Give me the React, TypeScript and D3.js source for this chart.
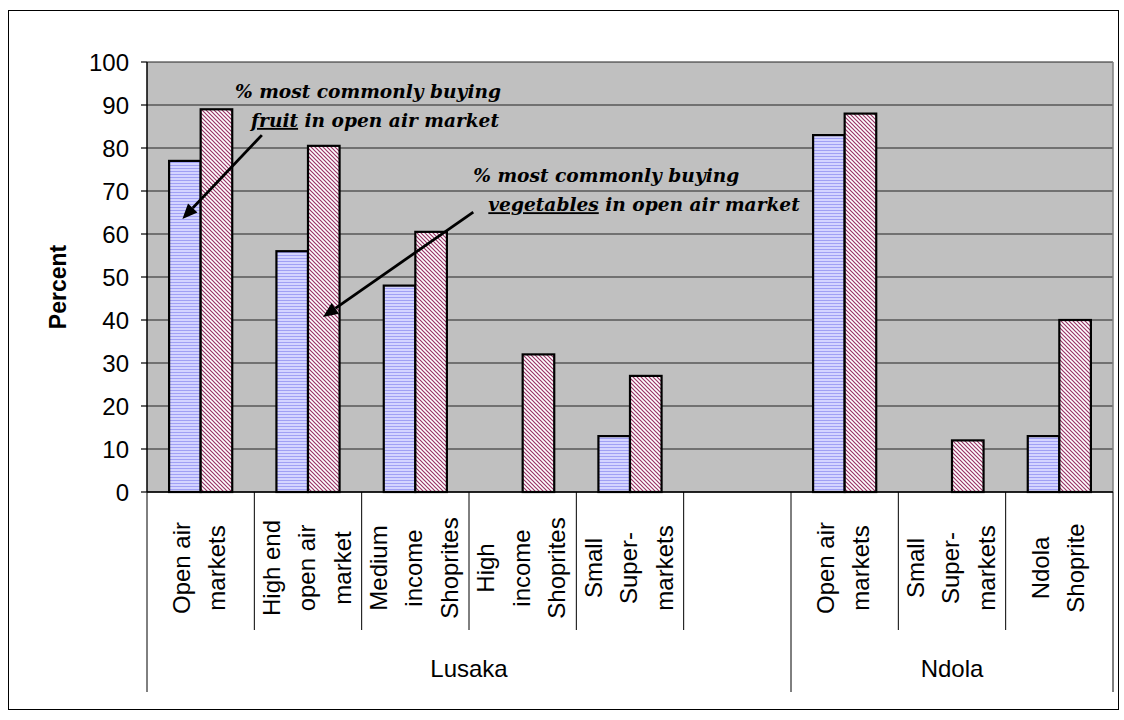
import React from "react";
import * as d3 from "d3";

const categoryLines: string[][] = [
  ["Open air", "markets"],
  ["High end", "open air", "market"],
  ["Medium", "income", "Shoprites"],
  ["High", "income", "Shoprites"],
  ["Small", "Super-", "markets"],
  [],
  ["Open air", "markets"],
  ["Small", "Super-", "markets"],
  ["Ndola", "Shoprite"],
];
const groupNames = ["Lusaka", "Ndola"];
const groupSpans = [
  [0, 6],
  [6, 9],
];
const fruitValues: (number | null)[] = [77, 56, 48, null, 13, null, 83, null, 13];
const vegValues: (number | null)[] = [89, 80.5, 60.5, 32, 27, null, 88, 12, 40];
const seriesKeys = ["fruit", "veg"];
const yTicks = [0, 10, 20, 30, 40, 50, 60, 70, 80, 90, 100];

// annotations in data coordinates (slot position, value)
const annotations = [
  {
    lines: [
      [{ t: "% most commonly buying", u: false }],
      [
        { t: "fruit", u: true },
        { t: " in open air market", u: false },
      ],
    ],
    textPos: [
      [0.82, 91.6],
      [0.97, 84.9],
    ],
    arrowFrom: [1.07, 83],
    arrowTo: [0.33, 63.5],
  },
  {
    lines: [
      [{ t: "% most commonly buying", u: false }],
      [
        { t: "vegetables", u: true },
        { t: " in open air market", u: false },
      ],
    ],
    textPos: [
      [3.04, 72.1],
      [3.18, 65.3],
    ],
    arrowFrom: [3.04, 65.1],
    arrowTo: [1.64, 40.7],
  },
];

const W = 1124;
const H = 720;
const left = 147;
const right = 1113;
const top = 62;
const bottom = 492;
const FONT = "'Liberation Sans', Arial, sans-serif";

export default function App() {
  const idx = categoryLines.map((_, i) => i);
  const x0 = d3.scaleBand<number>().domain(idx).range([left, right]).padding(0);
  const x1 = d3
    .scaleBand<string>()
    .domain(seriesKeys)
    .range([0, x0.bandwidth()])
    .paddingInner(0)
    .paddingOuter(0.7);
  const y = d3.scaleLinear().domain([0, 100]).range([bottom, top]);
  const slotX = d3.scaleLinear().domain([0, categoryLines.length]).range([left, right]);

  const bars: { key: string; i: number; v: number }[] = [];
  idx.forEach((i) => {
    if (fruitValues[i] != null) bars.push({ key: "fruit", i, v: fruitValues[i] as number });
    if (vegValues[i] != null) bars.push({ key: "veg", i, v: vegValues[i] as number });
  });

  const groupBoundaries = new Set<number>();
  groupSpans.forEach(([a, b]) => {
    groupBoundaries.add(a);
    groupBoundaries.add(b);
  });

  const arrowLine = (a: number[], b: number[]) => {
    const xA = slotX(a[0]),
      yA = y(a[1]),
      xB = slotX(b[0]),
      yB = y(b[1]);
    const ang = Math.atan2(yB - yA, xB - xA);
    const L = 15,
      Wd = 6.5;
    const bx = xB - L * Math.cos(ang),
      by = yB - L * Math.sin(ang);
    const p1 = [bx + Wd * Math.sin(ang), by - Wd * Math.cos(ang)];
    const p2 = [bx - Wd * Math.sin(ang), by + Wd * Math.cos(ang)];
    return (
      <g>
        <line x1={xA} y1={yA} x2={bx} y2={by} stroke="#000" strokeWidth={2.8} />
        <polygon points={`${xB},${yB} ${p1[0]},${p1[1]} ${p2[0]},${p2[1]}`} fill="#000" />
      </g>
    );
  };

  return (
    <svg
      width={W}
      height={H}
      style={{ position: "absolute", left: 0, top: 0, background: "#fff" }}
    >
      <defs>
        <pattern id="fruitPat" width="4" height="3" patternUnits="userSpaceOnUse">
          <rect width="4" height="3" fill="#D4D4FF" />
          <rect y="0" width="4" height="1" fill="#A0A0F4" />
        </pattern>
        <pattern id="vegPat" width="4" height="4" patternUnits="userSpaceOnUse">
          <rect width="4" height="4" fill="#ffffff" />
          <path d="M-1,-1 L5,5 M-1,3 L1,5 M3,-1 L5,1" stroke="#993366" strokeWidth={1.2} />
        </pattern>
      </defs>
      <rect x={8.5} y={10.5} width={1110} height={699} fill="#fff" stroke="#000" strokeWidth={1} />
      {/* plot background */}
      <rect x={left} y={top} width={right - left} height={bottom - top} fill="#C0C0C0" />
      {/* gridlines */}
      {yTicks.map((t) => (
        <line key={"g" + t} x1={left} x2={right} y1={y(t)} y2={y(t)} stroke="#222" strokeWidth={1.2} />
      ))}
      <line x1={right} x2={right} y1={top} y2={bottom} stroke="#808080" strokeWidth={1.5} />
      {/* bars */}
      {bars.map((b) => (
        <rect
          key={b.key + b.i}
          x={(x0(b.i) as number) + (x1(b.key) as number)}
          y={y(b.v)}
          width={x1.bandwidth()}
          height={y(0) - y(b.v)}
          fill={b.key === "fruit" ? "url(#fruitPat)" : "url(#vegPat)"}
          stroke="#000"
          strokeWidth={2.2}
        />
      ))}
      {/* y axis */}
      <line x1={left} x2={left} y1={top} y2={bottom} stroke="#000" strokeWidth={1.5} />
      {yTicks.map((t) => (
        <g key={"t" + t}>
          <line x1={left - 6} x2={left} y1={y(t)} y2={y(t)} stroke="#000" strokeWidth={1.2} />
          <text x={129} y={y(t) + 8.5} textAnchor="end" fontFamily={FONT} fontSize={24} fill="#000">
            {t}
          </text>
        </g>
      ))}
      <text
        transform={`translate(66,287) rotate(-90)`}
        textAnchor="middle"
        fontFamily={FONT}
        fontSize={23}
        fontWeight="bold"
      >
        Percent
      </text>
      {/* x axis */}
      <line x1={left} x2={right} y1={bottom} y2={bottom} stroke="#000" strokeWidth={1.5} />
      {d3.range(0, categoryLines.length + 1).map((k) => (
        <line
          key={"d" + k}
          x1={slotX(k)}
          x2={slotX(k)}
          y1={bottom}
          y2={groupBoundaries.has(k) ? 692 : 630}
          stroke="#000"
          strokeWidth={1}
        />
      ))}
      {categoryLines.map((lines, i) => {
        const c = (x0(i) as number) + x0.bandwidth() / 2;
        const n = lines.length;
        return lines.map((ln, j) => (
          <text
            key={"c" + i + "-" + j}
            transform={`translate(${c + (j - (n - 1) / 2) * 35.5 + 7},568) rotate(-90)`}
            textAnchor="middle"
            fontFamily={FONT}
            fontSize={24}
            fill="#000"
          >
            {ln}
          </text>
        ));
      })}
      {groupNames.map((g, k) => (
        <text
          key={g}
          x={(slotX(groupSpans[k][0]) + slotX(groupSpans[k][1])) / 2}
          y={677}
          textAnchor="middle"
          fontFamily={FONT}
          fontSize={24}
        >
          {g}
        </text>
      ))}
      {/* annotations */}
      {annotations.map((a, k) => (
        <g key={"a" + k}>
          {a.lines.map((ln, j) => (
            <text
              key={j}
              x={slotX(a.textPos[j][0])}
              y={y(a.textPos[j][1])}
              fontFamily="'DejaVu Serif', serif"
              fontWeight="bold"
              fontStyle="italic"
              fontSize={18.6}
              fill="#000"
            >
              {ln.map((s, m) => (
                <tspan key={m} textDecoration={s.u ? "underline" : undefined}>
                  {s.t}
                </tspan>
              ))}
            </text>
          ))}
          {arrowLine(a.arrowFrom, a.arrowTo)}
        </g>
      ))}
    </svg>
  );
}
